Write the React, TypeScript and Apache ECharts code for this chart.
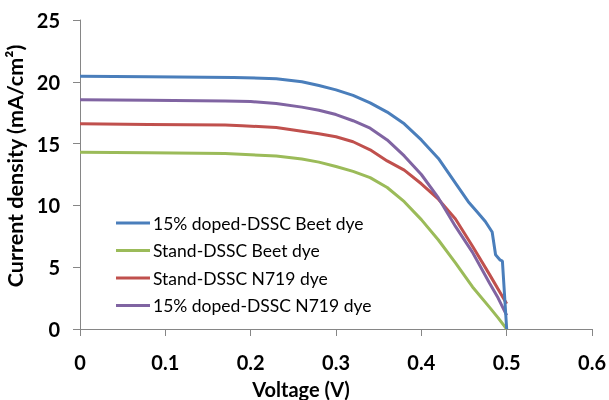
import React, { useEffect, useRef } from "react";
import * as echarts from "echarts";

const seriesNames = [
  "15% doped-DSSC Beet dye",
  "Stand-DSSC Beet dye",
  "Stand-DSSC N719 dye",
  "15% doped-DSSC N719 dye",
];
const seriesColors = ["#4A7EBB", "#9BBB59", "#C0504D", "#8064A2"];

const blueV = [0, 0.08, 0.18, 0.23, 0.26, 0.28, 0.3, 0.32, 0.34, 0.36, 0.38, 0.4, 0.42, 0.44, 0.455, 0.465, 0.475, 0.483, 0.487, 0.492, 0.495, 0.5];
const blueJ = [20.45, 20.4, 20.35, 20.25, 20.0, 19.7, 19.35, 18.9, 18.3, 17.55, 16.6, 15.3, 13.8, 11.8, 10.3, 9.5, 8.7, 7.85, 6.0, 5.6, 5.5, 0];

const greenV = [0, 0.08, 0.17, 0.2, 0.23, 0.26, 0.28, 0.3, 0.32, 0.34, 0.36, 0.38, 0.4, 0.42, 0.44, 0.46, 0.48, 0.49, 0.5];
const greenJ = [14.3, 14.25, 14.2, 14.1, 14.0, 13.75, 13.5, 13.15, 12.75, 12.25, 11.45, 10.3, 8.85, 7.2, 5.35, 3.4, 1.75, 0.9, 0];

const redV = [0, 0.08, 0.17, 0.19, 0.23, 0.26, 0.28, 0.3, 0.32, 0.34, 0.36, 0.38, 0.4, 0.42, 0.44, 0.46, 0.48, 0.5];
const redJ = [16.6, 16.55, 16.5, 16.45, 16.3, 16.0, 15.8, 15.55, 15.15, 14.5, 13.6, 12.85, 11.75, 10.5, 8.9, 6.7, 4.4, 2.05];

const purpleV = [0, 0.08, 0.17, 0.2, 0.23, 0.26, 0.28, 0.3, 0.32, 0.34, 0.36, 0.38, 0.4, 0.42, 0.44, 0.46, 0.48, 0.49, 0.5];
const purpleJ = [18.55, 18.5, 18.45, 18.4, 18.25, 17.95, 17.7, 17.35, 16.85, 16.25, 15.3, 14.0, 12.5, 10.6, 8.3, 6.2, 3.7, 2.5, 1.1];

const xTicks = { min: 0, max: 0.6, interval: 0.1 };
const yTicks = { min: 0, max: 25, interval: 5 };

const pairs = (v: number[], j: number[]) => v.map((x, i) => [x, j[i]]);

export default function App() {
  const ref = useRef<HTMLDivElement>(null);
  useEffect(() => {
    if (!ref.current) return;
    const chart = echarts.init(ref.current, undefined, { renderer: "svg" });
    const data = [pairs(blueV, blueJ), pairs(greenV, greenJ), pairs(redV, redJ), pairs(purpleV, purpleJ)];
    const axisFont = { fontFamily: "Lato", fontWeight: "bold" as const, fontSize: 20, color: "#000" };
    chart.setOption({
      animation: false,
      grid: { left: 80, right: 17, top: 20, bottom: 71, containLabel: false, outerBoundsMode: "none" },
      legend: {
        orient: "vertical",
        left: 111,
        top: 209,
        icon: "rect",
        itemWidth: 34,
        itemHeight: 3,
        itemGap: 9.5,
        data: seriesNames,
        textStyle: { fontFamily: "Lato", fontSize: 17.5, color: "#000", lineHeight: 18, padding: [0, 0, 0, -2] },
      },
      xAxis: {
        type: "value",
        ...xTicks,
        name: "Voltage (V)",
        nameLocation: "middle",
        nameGap: 50,
        nameTextStyle: { ...axisFont, padding: [0, 70, 0, 0] },
        axisLine: { lineStyle: { color: "#868686", width: 1 } },
        axisTick: { show: true, length: 7, lineStyle: { color: "#868686" } },
        splitLine: { show: false },
        axisLabel: { ...axisFont, margin: 23, formatter: (v: number) => String(Math.round(v * 10) / 10) },
      },
      yAxis: {
        type: "value",
        ...yTicks,
        name: "Current density (mA/cm²)",
        nameLocation: "middle",
        nameGap: 47,
        nameTextStyle: { ...axisFont, fontSize: 21.5, padding: [0, 0, 0, 17] },
        axisLine: { show: true, lineStyle: { color: "#868686", width: 1 } },
        axisTick: { show: true, length: 7, lineStyle: { color: "#868686" } },
        splitLine: { show: false },
        axisLabel: { ...axisFont, margin: 20 },
      },
      series: seriesNames.map((name, i) => ({
        name,
        type: "line",
        data: data[i],
        showSymbol: false,
        symbol: "none",
        smooth: false,
        z: i === 0 ? 5 : 2 + i * 0.1,
        lineStyle: { color: seriesColors[i], width: 3 },
        itemStyle: { color: seriesColors[i] },
      })),
    });
    return () => chart.dispose();
  }, []);
  return <div ref={ref} style={{ position: "fixed", left: 0, top: 0, width: 609, height: 400 }} />;
}
